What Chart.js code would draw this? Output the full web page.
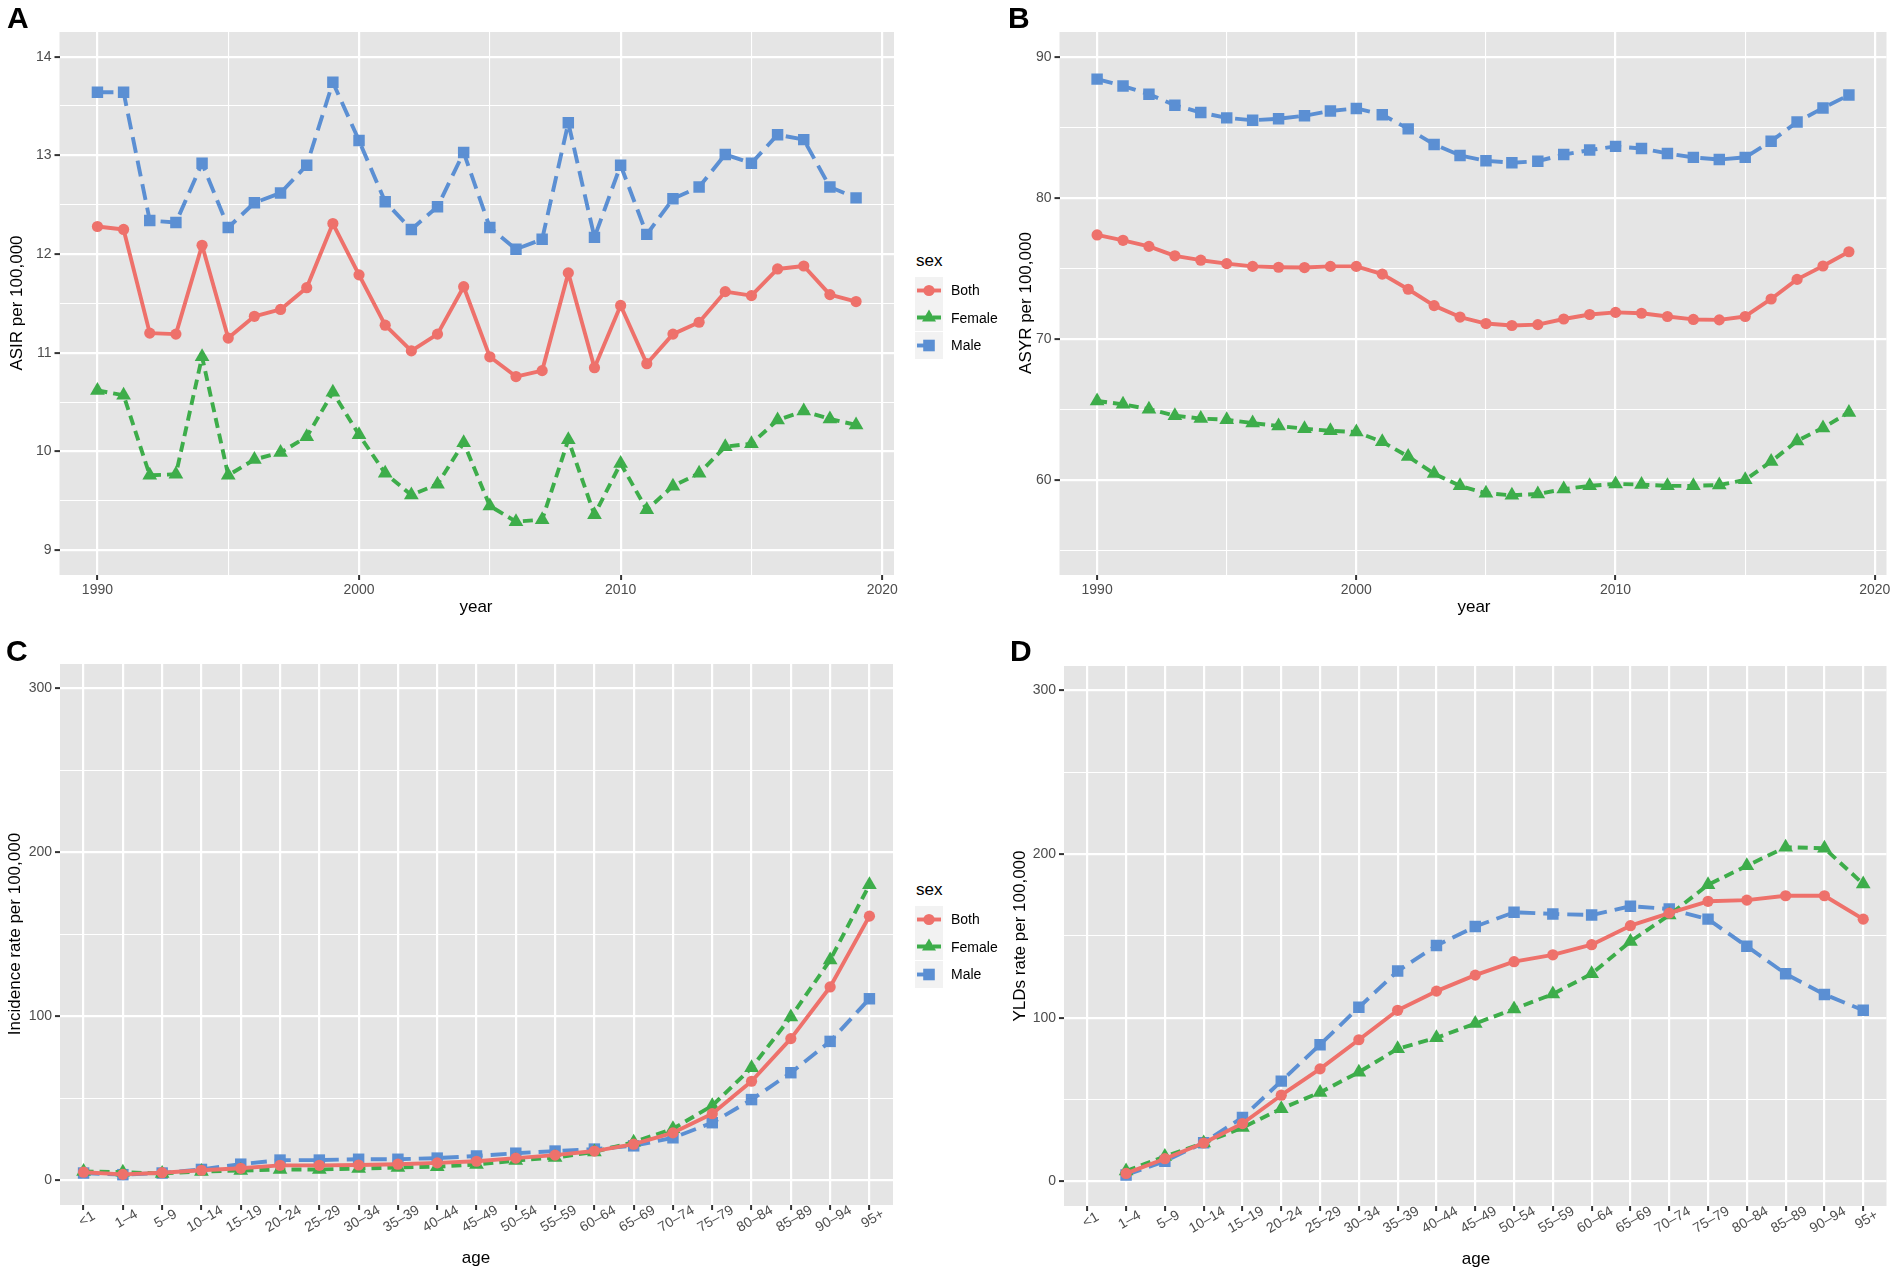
<!DOCTYPE html>
<html>
<head>
<meta charset="utf-8">
<script src="https://cdn.jsdelivr.net/npm/chart.js@4.4.1/dist/chart.umd.min.js"></script>
<style>
  body { margin: 0; background: #fff; width: 1902px; height: 1275px; position: relative; overflow: hidden;
         font-family: "Liberation Sans", Arial, sans-serif; }
  .panel { position: absolute; }
  .tag { position: absolute; font-weight: bold; font-size: 30px; line-height: 30px; color: #000; z-index: 2; }
  .ytitle { position: absolute; font-size: 17px; color: #000; white-space: nowrap; z-index: 2;
            transform: translate(-50%, -50%) rotate(-90deg); }
  .xtitle { position: absolute; font-size: 17px; color: #000; white-space: nowrap; z-index: 2;
            transform: translate(-50%, -50%); }
  .leg-title { position: absolute; font-size: 17px; color: #000; transform: translateY(-50%); z-index: 2; }
  .leg-key { position: absolute; width: 28px; height: 27px; z-index: 2; }
  .leg-text { position: absolute; font-size: 14px; color: #000; transform: translateY(-50%); z-index: 2; }
</style>
</head>
<body>

<canvas id="chartA" class="panel" width="905" height="630" style="left:0;top:0"></canvas>
<canvas id="chartB" class="panel" width="945" height="630" style="left:950px;top:0"></canvas>
<canvas id="chartC" class="panel" width="905" height="635" style="left:0;top:640px"></canvas>
<canvas id="chartD" class="panel" width="945" height="635" style="left:950px;top:640px"></canvas>

<div class="tag" style="left:7px;top:3px">A</div>
<div class="tag" style="left:1008px;top:3px">B</div>
<div class="tag" style="left:6px;top:636px">C</div>
<div class="tag" style="left:1010px;top:636px">D</div>

<div class="ytitle" style="left:17px;top:303px">ASIR per 100,000</div>
<div class="ytitle" style="left:1026px;top:303px">ASYR per 100,000</div>
<div class="ytitle" style="left:15px;top:934px">Incidence rate per 100,000</div>
<div class="ytitle" style="left:1020px;top:936px">YLDs rate per 100,000</div>

<div class="xtitle" style="left:476px;top:607px">year</div>
<div class="xtitle" style="left:1474px;top:607px">year</div>
<div class="xtitle" style="left:476px;top:1258px">age</div>
<div class="xtitle" style="left:1476px;top:1259px">age</div>

<div id="legends"></div>

<script>
// categories
const years = [1990, 1991, 1992, 1993, 1994, 1995, 1996, 1997, 1998, 1999,
               2000, 2001, 2002, 2003, 2004, 2005, 2006, 2007, 2008, 2009,
               2010, 2011, 2012, 2013, 2014, 2015, 2016, 2017, 2018, 2019];
const ageGroups = ['<1', '1–4', '5–9', '10–14', '15–19', '20–24', '25–29', '30–34', '35–39', '40–44',
                   '45–49', '50–54', '55–59', '60–64', '65–69', '70–74', '75–79', '80–84', '85–89', '90–94', '95+'];
const sexes = ['Both', 'Female', 'Male'];

// A: ASIR by year
const asirBoth   = [12.28, 12.25, 11.20, 11.19, 12.09, 11.15, 11.37, 11.44, 11.66, 12.31,
                    11.79, 11.28, 11.02, 11.19, 11.67, 10.96, 10.76, 10.82, 11.81, 10.85,
                    11.48, 10.89, 11.19, 11.31, 11.62, 11.58, 11.85, 11.88, 11.59, 11.52];
const asirFemale = [10.62, 10.57, 9.76, 9.77, 10.96, 9.76, 9.92, 9.99, 10.15, 10.60,
                    10.17, 9.78, 9.56, 9.67, 10.09, 9.45, 9.29, 9.31, 10.12, 9.36,
                    9.88, 9.41, 9.65, 9.78, 10.05, 10.08, 10.32, 10.41, 10.33, 10.27];
const asirMale   = [13.64, 13.64, 12.34, 12.32, 12.92, 12.27, 12.52, 12.62, 12.90, 13.74,
                    13.15, 12.53, 12.25, 12.48, 13.03, 12.27, 12.05, 12.15, 13.33, 12.17,
                    12.90, 12.20, 12.56, 12.68, 13.01, 12.92, 13.21, 13.16, 12.68, 12.57];

// B: ASYR by year
const asyrBoth   = [77.36, 76.98, 76.55, 75.88, 75.57, 75.33, 75.13, 75.07, 75.05, 75.13,
                    75.13, 74.58, 73.51, 72.35, 71.54, 71.08, 70.94, 71.00, 71.40, 71.72,
                    71.87, 71.81, 71.58, 71.37, 71.34, 71.58, 72.82, 74.21, 75.16, 76.17];
const asyrFemale = [65.59, 65.35, 65.01, 64.55, 64.34, 64.26, 64.02, 63.82, 63.62, 63.47,
                    63.39, 62.69, 61.65, 60.44, 59.57, 59.05, 58.90, 58.99, 59.34, 59.57,
                    59.71, 59.66, 59.57, 59.57, 59.63, 60.00, 61.30, 62.75, 63.68, 64.78];
const asyrMale   = [88.41, 87.92, 87.34, 86.56, 86.04, 85.66, 85.49, 85.60, 85.81, 86.15,
                    86.33, 85.89, 84.88, 83.78, 83.00, 82.62, 82.48, 82.59, 83.06, 83.38,
                    83.64, 83.49, 83.14, 82.86, 82.71, 82.86, 84.01, 85.37, 86.36, 87.28];

// C: incidence rate by age
const incBoth   = [5.0, 3.7, 4.7, 6.2, 7.4, 9.2, 9.2, 9.4, 9.9, 10.7, 11.7,
                   13.6, 15.4, 17.9, 22.1, 29.0, 40.7, 60.5, 86.5, 118.0, 161.2];
const incFemale = [5.5, 5.0, 4.2, 5.5, 6.0, 6.7, 6.7, 7.2, 7.9, 8.4, 9.7,
                   12.1, 13.9, 17.4, 23.3, 31.5, 45.6, 68.7, 99.7, 134.4, 180.3];
const incMale   = [4.5, 3.5, 4.5, 6.7, 9.9, 12.4, 12.4, 12.9, 12.9, 13.6, 14.9,
                   16.6, 17.9, 19.1, 21.1, 26.0, 35.2, 49.3, 65.7, 84.8, 110.8];

// D: YLDs rate by age (no value for <1)
const yldBoth   = [null, 4.9, 13.9, 23.5, 35.4, 52.7, 68.8, 86.6, 104.6, 116.3, 126.1,
                   134.3, 138.5, 144.7, 156.3, 164.0, 171.2, 171.9, 174.6, 174.6, 160.3];
const yldFemale = [null, 6.4, 15.3, 23.5, 32.9, 44.5, 54.4, 66.8, 81.1, 87.8, 96.5,
                   105.4, 114.5, 126.9, 146.7, 162.8, 181.3, 192.9, 204.3, 203.6, 181.8];
const yldMale   = [null, 4.0, 12.4, 23.7, 39.1, 61.3, 83.6, 106.4, 128.6, 144.2, 155.8,
                   164.5, 163.5, 162.8, 168.2, 166.5, 160.3, 143.7, 126.9, 114.3, 104.6];

// styling per sex
const FONT = '"Liberation Sans", Arial, sans-serif';
const sexStyle = {
    Both:   { color: '#EE716B', pointStyle: 'circle',   radius: 5.6, dash: [] },
    Female: { color: '#3DAD4A', pointStyle: 'triangle', radius: 8.5, dash: [10, 6] },
    Male:   { color: '#5B8FD3', pointStyle: 'rect',     radius: 8.1, dash: [16, 8] }
};

Chart.defaults.font.family = FONT;
Chart.defaults.font.size = 14;
Chart.defaults.color = '#4D4D4D';

const panelBg = {
    id: 'panelBg',
    beforeDraw(chart) {
        const { ctx, chartArea: a } = chart;
        ctx.save();
        ctx.fillStyle = '#E5E5E5';
        ctx.fillRect(a.left, a.top, a.right - a.left, a.bottom - a.top);
        ctx.restore();
    }
};

// rotated age labels, centred under each tick (ggplot style)
const ageLabels = {
    id: 'ageLabels',
    afterDraw(chart) {
        const { ctx, chartArea } = chart;
        const xs = chart.scales.x;
        ctx.save();
        ctx.font = '14px ' + FONT;
        ctx.fillStyle = '#4D4D4D';
        ctx.textAlign = 'center';
        ctx.textBaseline = 'top';
        ageGroups.forEach((g, i) => {
            ctx.save();
            ctx.translate(xs.getPixelForValue(i + 1), chartArea.bottom + 8);
            ctx.rotate(-Math.PI / 6);
            ctx.fillText(g, 0, 0);
            ctx.restore();
        });
        ctx.restore();
    }
};

function gridFor(isMajor) {
    return {
        color: '#FFFFFF',
        lineWidth: c => (c.tick && isMajor(c.tick.value)) ? 2.2 : 1.1,
        drawTicks: true,
        tickLength: 5,
        tickWidth: 2,
        tickColor: c => (c.tick && isMajor(c.tick.value)) ? '#333333' : 'rgba(0,0,0,0)'
    };
}

function makeDatasets(xs, series) {
    return sexes.map((s, k) => {
        const st = sexStyle[s];
        return {
            label: s,
            data: xs.map((x, i) => ({ x: x, y: series[k][i] })),
            borderColor: st.color,
            backgroundColor: st.color,
            borderWidth: 3.9,
            borderDash: st.dash,
            borderCapStyle: 'butt',
            borderJoinStyle: 'round',
            pointStyle: st.pointStyle,
            pointRadius: st.radius,
            pointBorderWidth: 0,
            pointBackgroundColor: st.color,
            tension: 0,
            spanGaps: false
        };
    });
}

function makePanel(id, cfg) {
    const xMajor = cfg.xMajor;
    const yMajor = cfg.yMajor;
    return new Chart(document.getElementById(id), {
        type: 'line',
        data: { datasets: makeDatasets(cfg.xs, cfg.series) },
        plugins: cfg.ageAxis ? [panelBg, ageLabels] : [panelBg],
        options: {
            responsive: false,
            animation: false,
            layout: { padding: cfg.padding },
            plugins: { legend: { display: false }, tooltip: { enabled: false } },
            scales: {
                x: {
                    type: 'linear',
                    min: cfg.xMin,
                    max: cfg.xMax,
                    afterBuildTicks: s => { s.ticks = cfg.xTicks.map(v => ({ value: v })); },
                    afterFit: s => { s.height = cfg.xHeight; },
                    border: { display: false },
                    grid: gridFor(xMajor),
                    ticks: {
                        display: !cfg.ageAxis,
                        autoSkip: false,
                        maxRotation: 0,
                        padding: 2,
                        color: '#4D4D4D',
                        callback: v => xMajor(v) ? String(v) : ''
                    }
                },
                y: {
                    type: 'linear',
                    min: cfg.yMin,
                    max: cfg.yMax,
                    afterBuildTicks: s => { s.ticks = cfg.yTicks.map(v => ({ value: v })); },
                    afterFit: s => { s.width = cfg.yWidth; },
                    border: { display: false },
                    grid: gridFor(yMajor),
                    ticks: {
                        autoSkip: false,
                        padding: 3,
                        color: '#4D4D4D',
                        callback: v => yMajor(v) ? String(v) : ''
                    }
                }
            }
        }
    });
}

const yearTicks = [1990, 1995, 2000, 2005, 2010, 2015, 2020];
const ageTicks = ageGroups.map((g, i) => i + 1);
const ageXs = ageGroups.map((g, i) => i + 1);

makePanel('chartA', {
    xs: years, series: [asirBoth, asirFemale, asirMale],
    xMin: 1988.55, xMax: 2020.45, xTicks: yearTicks, xMajor: v => v % 10 === 0,
    yMin: 8.75, yMax: 14.25, yTicks: [9, 9.5, 10, 10.5, 11, 11.5, 12, 12.5, 13, 13.5, 14],
    yMajor: v => Number.isInteger(v),
    padding: { top: 32, right: 11, bottom: 0, left: 0 }, yWidth: 59.5, xHeight: 55
});

makePanel('chartB', {
    xs: years, series: [asyrBoth, asyrFemale, asyrMale],
    xMin: 1988.55, xMax: 2020.45, xTicks: yearTicks, xMajor: v => v % 10 === 0,
    yMin: 53.25, yMax: 91.75, yTicks: [55, 60, 65, 70, 75, 80, 85, 90],
    yMajor: v => v % 10 === 0,
    padding: { top: 32, right: 6, bottom: 0, left: 0 }, yWidth: 109.5, xHeight: 55
});

makePanel('chartC', {
    xs: ageXs, series: [incBoth, incFemale, incMale], ageAxis: true,
    xMin: 0.4, xMax: 21.6, xTicks: ageTicks, xMajor: v => true,
    yMin: -15, yMax: 315, yTicks: [0, 50, 100, 150, 200, 250, 300],
    yMajor: v => v % 100 === 0,
    padding: { top: 24, right: 12, bottom: 0, left: 0 }, yWidth: 60, xHeight: 70
});

makePanel('chartD', {
    xs: ageXs, series: [yldBoth, yldFemale, yldMale], ageAxis: true,
    xMin: 0.4, xMax: 21.6, xTicks: ageTicks, xMajor: v => true,
    yMin: -15, yMax: 315, yTicks: [0, 50, 100, 150, 200, 250, 300],
    yMajor: v => v % 100 === 0,
    padding: { top: 26, right: 6, bottom: 0, left: 0 }, yWidth: 114, xHeight: 69
});

// legends (panels A and C)
function keySvg(s) {
    const st = sexStyle[s];
    const c = st.color;
    let marker;
    if (s === 'Both') marker = `<circle cx="14" cy="13.5" r="5.6" fill="${c}"/>`;
    else if (s === 'Female') marker = `<polygon points="14,5.5 21,17.5 7,17.5" fill="${c}"/>`;
    else marker = `<rect x="8.2" y="7.7" width="11.6" height="11.6" fill="${c}"/>`;
    const dash = st.dash.length ? `stroke-dasharray="${st.dash.join(',')}"` : '';
    return `<svg width="28" height="27" xmlns="http://www.w3.org/2000/svg">
        <rect width="28" height="27" fill="#F2F2F2"/>
        <line x1="2" y1="13.5" x2="26" y2="13.5" stroke="${c}" stroke-width="3.9" ${dash}/>
        ${marker}</svg>`;
}

function addLegend(titleY, keyYs) {
    const box = document.getElementById('legends');
    let html = `<div class="leg-title" style="left:916px;top:${titleY}px">sex</div>`;
    sexes.forEach((s, i) => {
        html += `<div class="leg-key" style="left:915px;top:${keyYs[i] - 13.5}px">${keySvg(s)}</div>`;
        html += `<div class="leg-text" style="left:951px;top:${keyYs[i]}px">${s}</div>`;
    });
    box.insertAdjacentHTML('beforeend', html);
}

addLegend(261, [290, 317.5, 345]);
addLegend(890, [919, 946.5, 974]);
</script>
</body>
</html>
